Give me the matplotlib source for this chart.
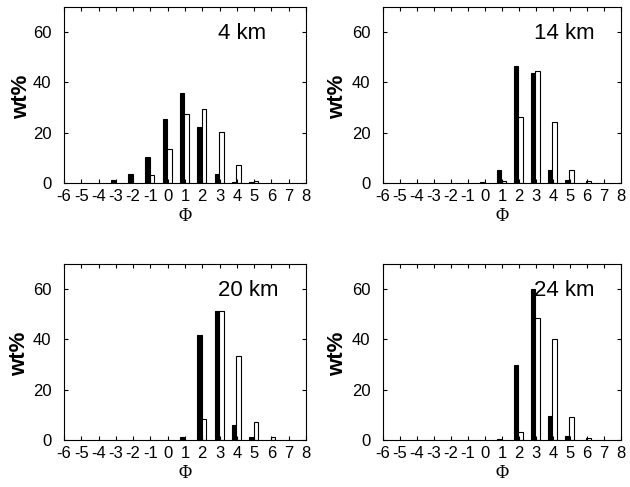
import matplotlib
matplotlib.use("Agg")
import matplotlib.pyplot as plt
import numpy as np

plt.rcParams['font.family'] = ['Liberation Sans', 'DejaVu Sans']

phi = [-6, -5, -4, -3, -2, -1, 0, 1, 2, 3, 4, 5, 6, 7, 8]
xticks = list(range(-6, 9))
yticks = [0, 20, 40, 60]

titles = ["4 km", "14 km", "20 km", "24 km"]

black_4 = [0, 0, 0, 1.1, 3.7, 10.4, 25.3, 35.6, 22.3, 3.7, 0.4, 0.4, 0, 0, 0]
white_4 = [0, 0, 0, 0, 0, 3.1, 13.5, 27.3, 29.5, 20.1, 7.3, 0.9, 0, 0, 0]

black_14 = [0, 0, 0, 0, 0, 0, 0.5, 5.2, 46.5, 43.9, 5.2, 1.1, 0, 0, 0]
white_14 = [0, 0, 0, 0, 0, 0, 0, 0.9, 26.4, 44.7, 24.3, 5.2, 0.9, 0, 0]

black_20 = [0, 0, 0, 0, 0, 0, 0, 1.1, 41.8, 51.4, 6.0, 1.1, 0, 0, 0]
white_20 = [0, 0, 0, 0, 0, 0, 0, 0, 8.4, 51.4, 33.6, 7.3, 1.1, 0, 0]

black_24 = [0, 0, 0, 0, 0, 0, 0, 0.5, 30.0, 60.0, 9.7, 1.7, 0, 0, 0]
white_24 = [0, 0, 0, 0, 0, 0, 0, 0, 3.2, 48.4, 40.1, 9.3, 0.9, 0, 0]

blacks = [black_4, black_14, black_20, black_24]
whites = [white_4, white_14, white_20, white_24]

fig = plt.figure(figsize=(6.3, 4.87), dpi=100)
W, H = 630.0, 487.0
boxes = [(64, 7, 306, 183), (383, 7, 621, 183), (64, 264, 306, 440), (383, 264, 621, 440)]
ylab_x = [-0.13, -0.147, -0.14, -0.147]

x = np.array(phi, dtype=float)
bw = 0.26
for i, (l, t, r, b) in enumerate(boxes):
    ax = fig.add_axes([l / W, 1 - b / H, (r - l) / W, (b - t) / H])
    bk = np.array(blacks[i])
    wh = np.array(whites[i])
    mb = bk > 0
    mw = wh > 0
    ax.bar(x[mb] - 0.16, bk[mb], width=bw, color='black', edgecolor='black', linewidth=0.8)
    ax.bar(x[mw] + 0.10, wh[mw], width=bw, color='white', edgecolor='black', linewidth=0.8)
    ax.set_xlim(-6, 8)
    ax.set_ylim(0, 70)
    ax.set_xticks(xticks)
    ax.set_xticklabels([str(v) for v in xticks])
    ax.set_yticks(yticks)
    ax.tick_params(axis='both', direction='in', top=True, right=True, length=3,
                   width=0.8, labelsize=12)
    ax.tick_params(axis='x', pad=4)
    ax.tick_params(axis='y', pad=9)
    for s in ax.spines.values():
        s.set_linewidth(0.8)
    ax.set_ylabel('wt%', fontsize=16, fontweight='bold')
    ax.yaxis.set_label_coords(ylab_x[i], 0.49)
    ax.set_xlabel('Φ', fontsize=13, family=['Liberation Serif', 'DejaVu Serif'], labelpad=3)
    ax.text(2.9, 59.5, titles[i], fontsize=16, ha='left', va='center')

fig.savefig('out.png', dpi=100)
